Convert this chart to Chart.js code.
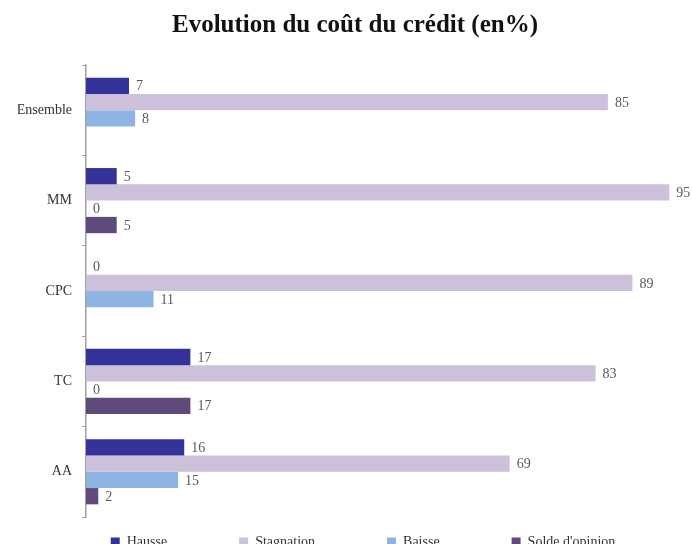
<!DOCTYPE html>
<html>
<head>
<meta charset="utf-8">
<title>Evolution du coût du crédit</title>
<script src="https://cdn.jsdelivr.net/npm/chart.js@4.4.0/dist/chart.umd.min.js"></script>
<style>
    html, body {
        margin: 0;
        padding: 0;
        background: #ffffff;
        width: 692px;
        height: 544px;
        overflow: hidden;
    }
    #wrap {
        position: relative;
        width: 692px;
        height: 613px;
    }
</style>
</head>
<body>
<div id="wrap"><canvas id="chart"></canvas></div>
<script>
const categories = ['Ensemble', 'MM', 'CPC', 'TC', 'AA'];
const hausse = [7, 5, 0, 17, 16];
const stagnation = [85, 95, 89, 83, 69];
const baisse = [8, 0, 11, 0, 15];
const solde = [null, 5, null, 17, 2];

const serif = '"Liberation Serif", "Times New Roman", serif';

// valeurs au bout des barres
const valueLabels = {
    id: 'valueLabels',
    afterDatasetsDraw(chart) {
        const ctx = chart.ctx;
        ctx.save();
        ctx.font = '14px ' + serif;
        ctx.fillStyle = '#595959';
        ctx.textBaseline = 'middle';
        ctx.textAlign = 'left';
        chart.data.datasets.forEach((ds, i) => {
            chart.getDatasetMeta(i).data.forEach((bar, j) => {
                const v = ds.data[j];
                if (v === null) return;
                ctx.fillText(String(v), bar.x + 7, bar.y + 1);
            });
        });
        ctx.restore();
    }
};

// la légende garde son espacement, on la remonte juste sous le graphique
const legendShift = {
    id: 'legendShift',
    afterLayout(chart) {
        const lg = chart.legend;
        lg.top = chart.chartArea.bottom + 18 - lg.options.labels.padding;
        lg.left += 16;
    }
};

const ctx = document.getElementById('chart').getContext('2d');
const chart = new Chart(ctx, {
    type: 'bar',
    data: {
        labels: categories,
        datasets: [
            {label: 'Hausse', data: hausse, backgroundColor: '#333399'},
            {label: 'Stagnation', data: stagnation, backgroundColor: '#ccc0da'},
            {label: 'Baisse', data: baisse, backgroundColor: '#8db4e2'},
            {label: "Solde d'opinion", data: solde, backgroundColor: '#604a7b'}
        ]
    },
    options: {
        indexAxis: 'y',
        responsive: true,
        maintainAspectRatio: false,
        animation: false,
        datasets: {
            bar: {
                categoryPercentage: 0.72,
                barPercentage: 1,
                borderWidth: 0
            }
        },
        layout: {
            padding: {left: 18, right: 0, top: 0, bottom: 0}
        },
        scales: {
            x: {
                display: false,
                min: 0,
                max: 98.7
            },
            y: {
                afterFit(scale) {
                    scale.width = 68;
                },
                grid: {
                    drawOnChartArea: false,
                    offset: true,
                    color: '#a0a0a0',
                    tickLength: 4
                },
                border: {color: '#a0a0a0', width: 1.5},
                ticks: {
                    color: '#333333',
                    padding: 10,
                    font: {family: serif, size: 14}
                }
            }
        },
        plugins: {
            title: {
                display: true,
                text: 'Evolution du coût du crédit (en%)',
                color: '#111111',
                font: {family: serif, size: 25, weight: 'bold'},
                padding: {top: 11, bottom: 24}
            },
            legend: {
                position: 'bottom',
                labels: {
                    boxWidth: 9,
                    boxHeight: 9,
                    padding: 72,
                    color: '#333333',
                    font: {family: serif, size: 14}
                }
            },
            tooltip: {enabled: false}
        }
    },
    plugins: [valueLabels, legendShift]
});
</script>
</body>
</html>
